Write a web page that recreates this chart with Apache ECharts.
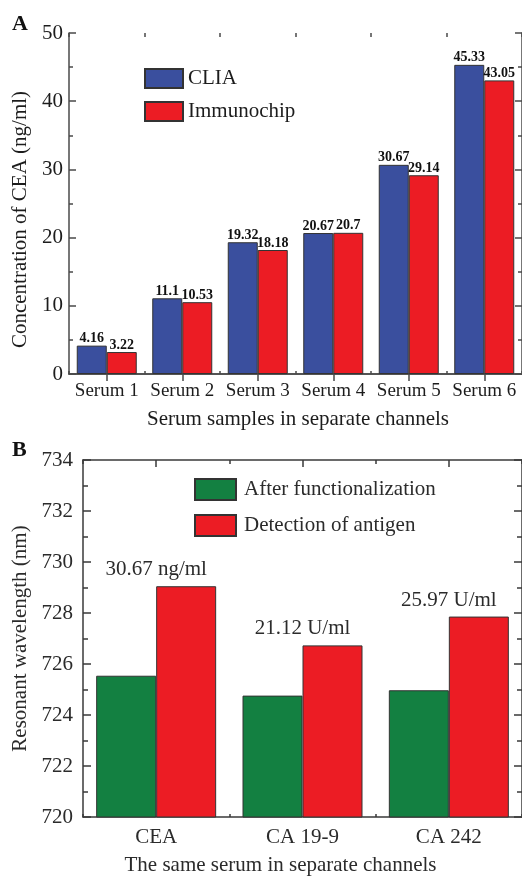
<!DOCTYPE html>
<html><head><meta charset="utf-8">
<script src="https://cdn.jsdelivr.net/npm/echarts@6/dist/echarts.min.js"></script>
<style>html,body{margin:0;padding:0;background:#fff}#c{width:522px;height:877px}</style>
</head><body><div id="c"></div>
<script>
// ---- Data ----
const serumCats = ['Serum 1','Serum 2','Serum 3','Serum 4','Serum 5','Serum 6'];
const cliaVals = [4.16, 11.1, 19.32, 20.67, 30.67, 45.33];
const chipVals = [3.22, 10.53, 18.18, 20.7, 29.14, 43.05];
const markerCats = ['CEA','CA 19-9','CA 242'];
const afterVals = [725.54, 724.76, 724.97];
const detectVals = [729.05, 726.73, 727.86];
const detectLabels = ['30.67 ng/ml','21.12 U/ml','25.97 U/ml'];
const axisA = {min:0, max:50, interval:10};
const axisB = {min:720, max:734, interval:2};

const FONT = 'Liberation Serif';
const colA = '#1c1c1c', colB = '#2b2b2b';
const lineA = {color:'#4a4a4a', width:1.5};
const lineB = {color:'#3a3a3a', width:1.5};

const chart = echarts.init(document.getElementById('c'), null, {renderer:'canvas'});

function catAxis(grid, data, pos, opts) {
  return Object.assign({
    type:'category', gridIndex:grid, data:data, position:pos,
    axisLine:{show:true, lineStyle:lineA},
    axisLabel:{show:false},
    splitLine:{show:false}
  }, opts);
}

const option = {
  animation:false,
  backgroundColor:'#fff',
  title:[
    {text:'A', left:12, top:13, padding:0, textStyle:{fontFamily:FONT, fontWeight:'bold', fontSize:22, color:'#111'}},
    {text:'B', left:12, top:439, padding:0, textStyle:{fontFamily:FONT, fontWeight:'bold', fontSize:22, color:'#111'}}
  ],
  grid:[
    {left:69, top:33, width:457, height:341},
    {left:83, top:460, width:448, height:359}
  ],
  legend:[
    {data:['CLIA','Immunochip'], orient:'vertical', left:144, top:68, padding:0,
     itemWidth:38, itemHeight:19, itemGap:12, icon:'rect',
     textStyle:{fontFamily:FONT, fontSize:21, color:colA, lineHeight:19}},
    {data:['After functionalization','Detection of antigen'], orient:'vertical', left:194, top:478, padding:0,
     itemWidth:41, itemHeight:21, itemGap:13, icon:'rect',
     textStyle:{fontFamily:FONT, fontSize:21, color:colB, lineHeight:21, padding:[0,0,0,3]}}
  ],
  xAxis:[
    catAxis(0, serumCats, 'bottom', {
      axisTick:{show:true, inside:true, length:3, lineStyle:lineA},
      axisLabel:{show:true, interval:0, fontFamily:FONT, fontSize:19, color:colA, margin:8},
      name:'Serum samples in separate channels', nameLocation:'middle', nameGap:35,
      nameTextStyle:{fontFamily:FONT, fontSize:21, color:colA, padding:[0,0,0,5]}
    }),
    catAxis(0, serumCats, 'top', {
      axisTick:{show:true, inside:true, alignWithLabel:true, interval:0, length:7, lineStyle:lineA}
    }),
    catAxis(0, serumCats, 'top', {
      axisLine:{show:false},
      axisTick:{show:true, inside:true, interval:0, length:4, lineStyle:lineA}
    }),
    catAxis(1, markerCats, 'bottom', {
      axisLine:{show:true, lineStyle:lineB},
      axisTick:{show:true, inside:true, length:3, lineStyle:lineB},
      axisLabel:{show:true, interval:0, fontFamily:FONT, fontSize:21, color:colB, margin:10},
      name:'The same serum in separate channels', nameLocation:'middle', nameGap:38,
      nameTextStyle:{fontFamily:FONT, fontSize:21, color:colB, padding:[0,44,0,0]}
    }),
    catAxis(1, markerCats, 'top', {
      axisLine:{show:true, lineStyle:lineB},
      axisTick:{show:true, inside:true, alignWithLabel:true, interval:0, length:7, lineStyle:lineB}
    }),
    catAxis(1, markerCats, 'top', {
      axisLine:{show:false},
      axisTick:{show:true, inside:true, interval:0, length:4, lineStyle:lineB}
    })
  ],
  yAxis:[
    {type:'value', gridIndex:0, position:'left', min:axisA.min, max:axisA.max, interval:axisA.interval,
     axisLine:{show:true, lineStyle:lineA},
     axisTick:{show:true, inside:true, length:7, lineStyle:lineA},
     minorTick:{show:true, splitNumber:2, length:4, lineStyle:lineA},
     splitLine:{show:false},
     axisLabel:{fontFamily:FONT, fontSize:21, color:colA, margin:6},
     name:'Concentration of CEA (ng/ml)', nameLocation:'middle', nameGap:35,
     nameTextStyle:{fontFamily:FONT, fontSize:21, color:colA, padding:[0,32,0,0]}},
    {type:'value', gridIndex:0, position:'right', min:axisA.min, max:axisA.max, interval:axisA.interval,
     axisLine:{show:true, lineStyle:lineA},
     axisTick:{show:true, inside:true, length:7, lineStyle:lineA},
     minorTick:{show:true, splitNumber:2, length:4, lineStyle:lineA},
     splitLine:{show:false}, axisLabel:{show:false}},
    {type:'value', gridIndex:1, position:'left', min:axisB.min, max:axisB.max, interval:axisB.interval,
     axisLine:{show:true, lineStyle:lineB},
     axisTick:{show:true, inside:true, length:8, lineStyle:lineB},
     minorTick:{show:true, splitNumber:2, length:5, lineStyle:lineB},
     splitLine:{show:false},
     axisLabel:{fontFamily:FONT, fontSize:21, color:colB, margin:10},
     name:'Resonant wavelength (nm)', nameLocation:'middle', nameGap:50,
     nameTextStyle:{fontFamily:FONT, fontSize:21, color:colB}},
    {type:'value', gridIndex:1, position:'right', min:axisB.min, max:axisB.max, interval:axisB.interval,
     axisLine:{show:true, lineStyle:lineB},
     axisTick:{show:true, inside:true, length:8, lineStyle:lineB},
     minorTick:{show:true, splitNumber:2, length:5, lineStyle:lineB},
     splitLine:{show:false}, axisLabel:{show:false}}
  ],
  series:[
    {name:'CLIA', type:'bar', xAxisIndex:0, yAxisIndex:0, data:cliaVals, barWidth:30, barGap:'0%',
     itemStyle:{color:'#3a4f9e', borderColor:'#333', borderWidth:1},
     label:{show:true, position:'top', distance:0, fontFamily:FONT, fontWeight:'bold', fontSize:14, color:'#111'}},
    {name:'Immunochip', type:'bar', xAxisIndex:0, yAxisIndex:0, data:chipVals, barWidth:30, barGap:'0%',
     itemStyle:{color:'#ec1c24', borderColor:'#333', borderWidth:1},
     label:{show:true, position:'top', distance:0, fontFamily:FONT, fontWeight:'bold', fontSize:14, color:'#111'}},
    {name:'After functionalization', type:'bar', xAxisIndex:3, yAxisIndex:2, data:afterVals, barWidth:60, barGap:'0%',
     itemStyle:{color:'#138041', borderColor:'#333', borderWidth:1}},
    {name:'Detection of antigen', type:'bar', xAxisIndex:3, yAxisIndex:2, data:detectVals, barWidth:60, barGap:'0%',
     itemStyle:{color:'#ec1c24', borderColor:'#333', borderWidth:1},
     label:{show:true, position:'top', distance:6, offset:[-30,0], fontFamily:FONT, fontSize:21, color:colB,
            formatter:function(p){return detectLabels[p.dataIndex];}}}
  ]
};
chart.setOption(option);
</script></body></html>
